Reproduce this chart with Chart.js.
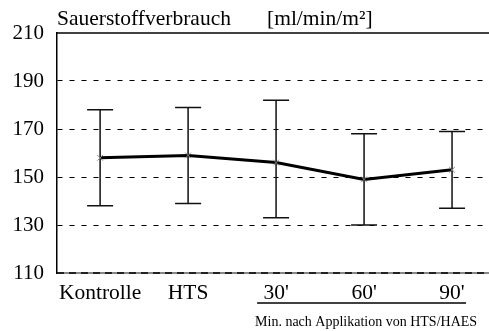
<!DOCTYPE html>
<html>
<head>
<meta charset="utf-8">
<script src="https://cdn.jsdelivr.net/npm/chart.js@4/dist/chart.umd.min.js"></script>
<style>
  html, body { margin: 0; padding: 0; background: #fff; overflow: hidden; }
  #wrap { width: 489px; height: 331px; }
  canvas { display: block; }
</style>
</head>
<body>
<div id="wrap"><canvas id="c"></canvas></div>
<script>
// data
var categories = ['Kontrolle', 'HTS', "30'", "60'", "90'"]
var meanValues = [158, 159, 156, 149, 153]
var upperValues = [178, 179, 182, 168, 169]
var lowerValues = [138, 139, 133, 130, 137]
var yTicks = [110, 130, 150, 170, 190, 210]

var serif = '"Liberation Serif", "Times New Roman", serif'

var points = meanValues.map(function (v, i) { return { x: i + 1, y: v } })

var errorBars = {
    id: 'errorBars',
    beforeDatasetsDraw: function (chart) {
        let ctx = chart.ctx
        let xs = chart.scales.x
        let ys = chart.scales.y
        ctx.save()
        ctx.strokeStyle = '#111'
        ctx.lineWidth = 1.5
        for (let i = 0; i < categories.length; i++) {
            let px = xs.getPixelForValue(i + 1)
            let top = ys.getPixelForValue(upperValues[i])
            let bot = ys.getPixelForValue(lowerValues[i])
            ctx.beginPath()
            ctx.moveTo(px, top)
            ctx.lineTo(px, bot)
            ctx.moveTo(px - 13, top)
            ctx.lineTo(px + 13, top)
            ctx.moveTo(px - 13, bot)
            ctx.lineTo(px + 13, bot)
            ctx.stroke()
        }
        ctx.restore()
    }
}

var decorations = {
    id: 'decorations',
    beforeDatasetsDraw: function (chart) {
        // heavier bottom line at 110: grey with dark dashes
        let ctx = chart.ctx
        let area = chart.chartArea
        let yb = chart.scales.y.getPixelForValue(110)
        ctx.save()
        ctx.lineWidth = 2
        ctx.strokeStyle = '#888'
        ctx.beginPath()
        ctx.moveTo(area.left, yb)
        ctx.lineTo(area.right, yb)
        ctx.stroke()
        ctx.strokeStyle = '#222'
        ctx.setLineDash([7, 5])
        ctx.beginPath()
        ctx.moveTo(area.left, yb)
        ctx.lineTo(area.right, yb)
        ctx.stroke()
        ctx.restore()
    },
    afterDraw: function (chart) {
        let ctx = chart.ctx
        let area = chart.chartArea
        let xs = chart.scales.x
        ctx.save()
        // top frame line
        ctx.strokeStyle = '#000'
        ctx.lineWidth = 1.5
        ctx.beginPath()
        ctx.moveTo(area.left, area.top)
        ctx.lineTo(area.right, area.top)
        ctx.stroke()
        // heading
        ctx.fillStyle = '#000'
        ctx.textBaseline = 'alphabetic'
        ctx.textAlign = 'left'
        ctx.font = '21.5px ' + serif
        ctx.fillText('Sauerstoffverbrauch', area.left, 25)
        ctx.fillText('[ml/min/m\u00b2]', 267, 25)
        // bracket under the time points
        ctx.lineWidth = 1.5
        ctx.beginPath()
        ctx.moveTo(xs.getPixelForValue(3) - 19, 303)
        ctx.lineTo(xs.getPixelForValue(5) + 14, 303)
        ctx.stroke()
        ctx.font = '14px ' + serif
        ctx.textAlign = 'center'
        ctx.textBaseline = 'middle'
        ctx.fillText('Min. nach Applikation von HTS/HAES', xs.getPixelForValue(4) + 2, 322)
        ctx.restore()
    }
}

new Chart(document.getElementById('c'), {
    type: 'line',
    data: {
        datasets: [{
            data: points,
            borderColor: '#000',
            borderWidth: 3,
            tension: 0,
            pointStyle: 'crossRot',
            pointRadius: 4,
            pointBorderColor: '#888',
            pointBorderWidth: 1,
            pointBackgroundColor: '#888'
        }]
    },
    options: {
        responsive: true,
        maintainAspectRatio: false,
        animation: false,
        events: [],
        layout: { autoPadding: false, padding: { top: 33, left: 0, right: 0, bottom: 0 } },
        plugins: {
            legend: { display: false },
            tooltip: { enabled: false }
        },
        scales: {
            x: {
                type: 'linear',
                min: 0.51,
                max: 5.42,
                afterBuildTicks: function (scale) {
                    scale.ticks = categories.map(function (c, i) { return { value: i + 1 } })
                },
                afterFit: function (scale) { scale.height = 58 },
                grid: { display: false, drawTicks: false },
                border: { display: false },
                ticks: {
                    autoSkip: false,
                    maxRotation: 0,
                    padding: 7,
                    color: '#000',
                    font: { family: serif, size: 21.5 },
                    callback: function (v) { return categories[v - 1] }
                }
            },
            y: {
                min: 110,
                max: 210,
                afterBuildTicks: function (scale) {
                    scale.ticks = yTicks.map(function (v) { return { value: v } })
                },
                afterFit: function (scale) { scale.width = 57 },
                grid: {
                    color: function (c) { return c.tick && (c.tick.value === 110 || c.tick.value === 210) ? 'rgba(0,0,0,0)' : '#000' },
                    lineWidth: 1,
                    drawTicks: false
                },
                border: { display: true, color: '#000', width: 1.5, dash: [5, 7] },
                ticks: {
                    padding: 13,
                    color: '#000',
                    font: { family: serif, size: 21 }
                }
            }
        }
    },
    plugins: [errorBars, decorations]
})
</script>
</body>
</html>
